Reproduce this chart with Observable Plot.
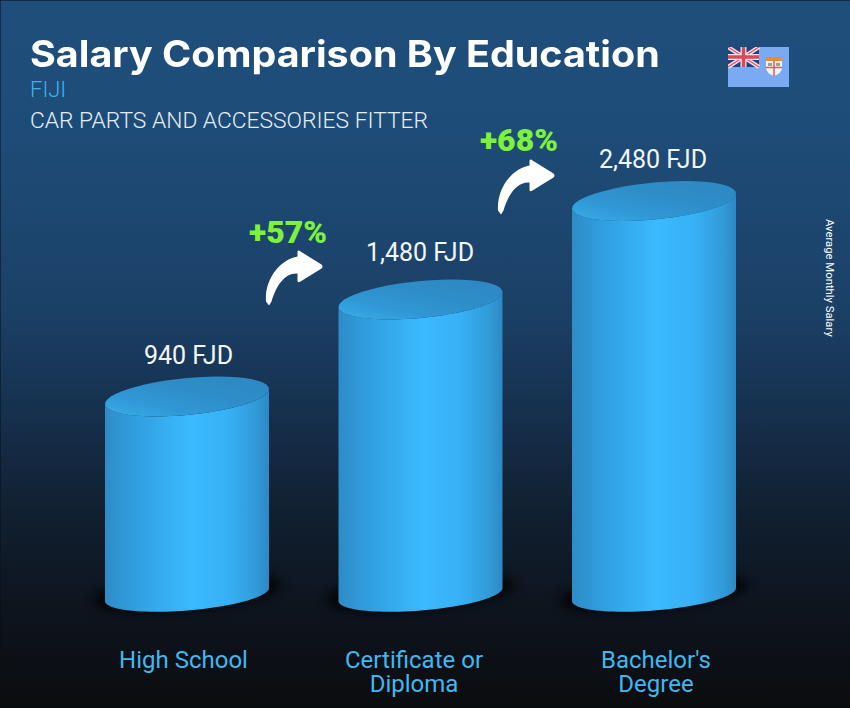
<!DOCTYPE html>
<html>
<head>
<meta charset="utf-8">
<script src="https://cdn.jsdelivr.net/npm/d3@7"></script>
<script src="https://cdn.jsdelivr.net/npm/@observablehq/plot@0.6"></script>
<style>
html,body{margin:0;padding:0;background:#0a0d12;overflow:hidden}
#wrap{position:relative;width:850px;height:708px;overflow:hidden}
#wrap svg{display:block}
.t{position:absolute;white-space:nowrap;margin:0;line-height:1}
#title{left:30px;top:31px;font:700 37px Inter,sans-serif;color:#fff;transform:scaleX(1.066);transform-origin:left center}
#country{left:30px;top:77px;font:300 22px Roboto,sans-serif;color:#3fb2ec}
#job{left:30px;top:107px;font:300 22.8px Roboto,sans-serif;color:#e4ecf2}
#side{left:823px;top:219px;font:400 11.3px Roboto,sans-serif;color:#fff;writing-mode:vertical-rl}
#flag{position:absolute;left:728px;top:47px;width:61px;height:40px}
</style>
</head>
<body>
<div id="wrap">
<div id="chart"></div>
<h1 class="t" id="title">Salary Comparison By Education</h1>
<div class="t" id="country">FIJI</div>
<div class="t" id="job">CAR PARTS AND ACCESSORIES FITTER</div>
<div class="t" id="side">Average Monthly Salary</div>
<svg id="flag" viewBox="0 0 61 40">
  <rect width="61" height="40" fill="#79aaf2"/>
  <rect width="31" height="20" fill="#27407f"/>
  <path d="M0 0L31 20M31 0L0 20" stroke="#f3e6ea" stroke-width="4"/>
  <path d="M0 0L31 20M31 0L0 20" stroke="#e0566a" stroke-width="1.4"/>
  <path d="M15.5 0V20M0 10H31" stroke="#f3e6ea" stroke-width="6"/>
  <path d="M15.5 0V20M0 10H31" stroke="#e0465a" stroke-width="3.4"/>
  <path d="M38 10H54V21Q54 26 46 29Q38 26 38 21Z" fill="#f4f1ee"/>
  <rect x="38" y="10" width="16" height="4" fill="#e88a3a"/>
  <path d="M46 14V29M38 20.5H54" stroke="#e0566a" stroke-width="1.5"/>
  <rect x="40" y="16" width="4" height="3" fill="#8fae7a"/>
  <rect x="48" y="16" width="4" height="3" fill="#8fae7a"/>
</svg>
</div>
<script>
const levels = ["High School", "Certificate or\nDiploma", "Bachelor's\nDegree"];
const salaries = [940, 1480, 2480];
const valueLabels = ["940 FJD", "1,480 FJD", "2,480 FJD"];
const growthLevels = [levels[1], levels[2]];
const growthValues = [salaries[1], salaries[2]];
const growthLabels = ["+57%", "+68%"];

const bars = levels.map((level, i) => ({level, salary: salaries[i]}));

function ellipsePts(cx, cy, a, slope, b, t0, t1) {
  const pts = [], n = 48;
  for (let k = 0; k <= n; ++k) {
    const t = t0 + (t1 - t0) * k / n;
    pts.push([cx + a * Math.cos(t), cy - slope * Math.cos(t) + b * Math.sin(t)]);
  }
  return pts;
}
const toPath = pts => "M" + pts.map(p => p[0].toFixed(2) + "," + p[1].toFixed(2)).join("L");

function cylinder(index, scales, values, dims, ctx, next) {
  const g = next(index, scales, values, dims, ctx);
  d3.select(g).selectAll("rect").each(function() {
    const r = d3.select(this);
    const x = +r.attr("x"), w = +r.attr("width"), top = +r.attr("y"), h = +r.attr("height");
    const cx = x + w / 2, a = w / 2, base = top + h;
    const parent = d3.select(this.parentNode);
    const lidPts = ellipsePts(cx, top, a, 7.5, 18.5, 0, Math.PI);
    const basePts = ellipsePts(cx, base, a, 6.5, 16, Math.PI, 0);
    parent.append("path").attr("d", toPath(ellipsePts(cx, base - 2, a + 12, 8, 16, 0, 2 * Math.PI)) + "Z")
      .attr("fill", "#000").attr("filter", "url(#shadowBlur)").attr("opacity", 0.95);
    parent.append("path").attr("d", toPath(basePts.concat(lidPts)) + "Z").attr("fill", "url(#bodyGrad)");
    parent.append("path").attr("d", toPath(ellipsePts(cx, top, a, 7.5, 18.5, 0, 2 * Math.PI)) + "Z").attr("fill", "url(#lidGrad)");
    r.remove();
  });
  return g;
}

const arrow = {
  draw(c) {
    c.moveTo(-25.5, 27);
    c.lineTo(-28.5, 23);
    c.bezierCurveTo(-30, 0, -14, -19, 3, -22);
    c.lineTo(3, -27);
    c.quadraticCurveTo(4, -29, 6, -27);
    c.lineTo(27, -14);
    c.quadraticCurveTo(29, -12, 27, -10);
    c.lineTo(6, 3);
    c.quadraticCurveTo(3, 5, 3, 2);
    c.lineTo(3, -5);
    c.bezierCurveTo(-9, -6, -18, 6, -23, 23);
    c.closePath();
  }
};

function defs() {
  const s = d3.create("svg:defs");
  const grad = (id, attrs, stops) => {
    const g = s.append("linearGradient").attr("id", id);
    Object.entries(attrs).forEach(([k, v]) => g.attr(k, v));
    stops.forEach(([o, c]) => g.append("stop").attr("offset", o).attr("stop-color", c));
  };
  grad("bg", {x1: 0, y1: 0, x2: 0, y2: 1}, [
    [0, "#1f4e7c"], [0.14, "#1e4d7a"], [0.28, "#1d4872"], [0.44, "#1b4066"], [0.58, "#16304e"], [0.72, "#112031"], [0.85, "#0e151f"], [1, "#0b0c0e"]
  ]);
  grad("bodyGrad", {x1: 0, y1: 0, x2: 1, y2: 0}, [
    [0, "#2e8cc8"], [0.2, "#31a0e0"], [0.52, "#3bbaff"], [0.75, "#37b0f6"], [0.93, "#3199d6"], [1, "#2d88c4"]
  ]);
  grad("lidGrad", {x1: 0, y1: 1, x2: 1, y2: 0}, [
    [0, "#39aee9"], [0.3, "#3097d6"], [0.6, "#2e8dc8"], [1, "#2e87c2"]
  ]);
  s.append("filter").attr("id", "shadowBlur").attr("x", "-30%").attr("y", "-100%").attr("width", "160%").attr("height", "300%")
    .append("feGaussianBlur").attr("stdDeviation", 6);
  return s.node();
}

const valueDx = [1, -1, -1.5];
const valueOffsets = [-41, -47, -42];
const growthOffsets = [-133, -135.5];
const growthRise = [-67.5, -60.5];
const arrowDx = [-126.5, -128];
const arrowDy = [-21.5, -14];
const levelDx = [-4, -7, 1.5];

// The source chart's bars are stylised, not proportional: this keeps their drawn heights.
const heightOf = d3.scaleLinear().domain([0, 940, 1480, 2480]).range([0, 198, 295, 393.5]);

const plot = Plot.plot({
  width: 850, height: 708,
  marginTop: 0, marginRight: 0, marginBottom: 0, marginLeft: 0,
  style: {background: "transparent", fontFamily: "Roboto, sans-serif"},
  x: {domain: levels, range: [105, 736], paddingInner: 0.2976, paddingOuter: 0, round: false, axis: null},
  y: {transform: heightOf, domain: [0, 393.5], range: [594.5, 201], axis: null},
  marks: [
    defs,
    Plot.frame({fill: "url(#bg)", stroke: "none"}),
    Plot.barY(bars, {x: "level", y: "salary", fill: "#38b0f0", render: cylinder}),
    ...levels.map((l, i) => Plot.text([valueLabels[i]], {
      x: () => l, y: () => salaries[i], text: d => d, dx: valueDx[i], dy: valueOffsets[i],
      fontSize: 25, fill: "#f4f7fa", fontWeight: 400
    })),
    ...growthLevels.map((l, i) => Plot.text([growthLabels[i]], {
      x: () => l, y: () => growthValues[i], text: d => d,
      dx: growthOffsets[i], dy: growthRise[i],
      fontSize: 32, fontWeight: 900, fill: "#7ef23b"
    })),
    ...growthLevels.map((l, i) => Plot.dot([growthLabels[i]], {
      x: () => l, y: () => growthValues[i],
      dx: arrowDx[i], dy: arrowDy[i],
      r: 10, symbol: arrow, fill: "#ffffff", stroke: "none"
    })),
    ...levels.map((l, i) => Plot.text([l], {
      x: () => l, y: () => 0, text: d => d,
      dx: levelDx[i], dy: 55.5, lineAnchor: "top", lineHeight: 1,
      fontSize: 24, fill: "#3fb8f0"
    }))
  ]
});
document.getElementById("chart").appendChild(plot);
</script>
</body>
</html>
